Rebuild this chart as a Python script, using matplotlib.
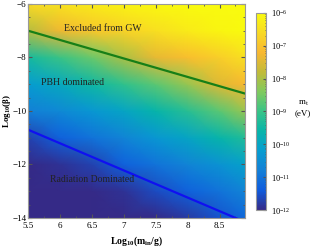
import numpy as np
import matplotlib
matplotlib.use("Agg")
import matplotlib.pyplot as plt
from matplotlib.colors import LinearSegmentedColormap, LogNorm
from matplotlib.ticker import MultipleLocator, FuncFormatter

plt.rcParams['font.family'] = ['Liberation Serif', 'DejaVu Serif']
plt.rcParams['mathtext.fontset'] = 'custom'
plt.rcParams['mathtext.rm'] = 'Liberation Serif'
plt.rcParams['mathtext.it'] = 'Liberation Serif:italic'
plt.rcParams['mathtext.bf'] = 'Liberation Serif:bold'

# grid nodes of the density map (log10 of mass in g, log10 beta)
log_m = [5.5, 6.0, 6.5, 7.0, 7.5, 8.0, 8.5, 8.9]
log_beta = [-14, -13, -12, -11, -10, -9, -8, -7, -6]
# log10(m_t / eV), one list per log_m column, bottom to top
log_mt = [
    [-12.0, -12.0, -12.0, -11.7, -10.8, -10.2, -9.4, -7.9, -6.6],
    [-12.0, -12.0, -11.9, -11.3, -10.6, -9.9, -9.0, -7.3, -6.45],
    [-12.0, -12.0, -11.7, -11.0, -10.3, -9.5, -8.6, -6.95, -6.3],
    [-12.0, -11.9, -11.3, -10.7, -10.0, -9.1, -8.0, -6.75, -6.15],
    [-12.0, -11.6, -11.0, -10.3, -9.6, -8.7, -7.4, -6.5, -6.05],
    [-11.8, -11.3, -10.7, -10.0, -9.2, -8.2, -7.1, -6.3, -6.0],
    [-11.5, -11.0, -10.4, -9.6, -8.7, -7.5, -6.8, -6.1, -6.0],
    [-11.2, -10.7, -10.1, -9.3, -8.2, -7.2, -6.5, -6.0, -6.0],
]

# boundary lines
gw_x = [5.5, 8.9]
gw_y = [-7.0, -9.35]
rad_x = [5.5, 8.9]
rad_y = [-10.7, -14.15]

parula = LinearSegmentedColormap.from_list("parula", [
    (0.2081, 0.1663, 0.5292), (0.0591, 0.3598, 0.8683),
    (0.0753, 0.5010, 0.8420), (0.0244, 0.6133, 0.8172),
    (0.0267, 0.7074, 0.6664), (0.2196, 0.7659, 0.5301),
    (0.5019, 0.7927, 0.3678), (0.7564, 0.7321, 0.2256),
    (0.9722, 0.7199, 0.1923), (0.9738, 0.8513, 0.1456),
    (0.9763, 0.9831, 0.0538)])

fig = plt.figure(figsize=(3.15, 2.48), dpi=100)
ax = fig.add_axes([0.089, 0.121, 0.689, 0.863])
cax = fig.add_axes([0.813, 0.153, 0.032, 0.795])

X, Y = np.meshgrid(log_m, log_beta)
Z = 10.0 ** np.array(log_mt).T
mesh = ax.pcolormesh(X, Y, Z, shading='gouraud', cmap=parula,
                     norm=LogNorm(vmin=1e-12, vmax=1e-6), rasterized=True)

ax.plot(gw_x, gw_y, color='#177f17', lw=1.6)
ax.plot(rad_x, rad_y, color='#1010f0', lw=1.6)

ax.text(6.67, -6.93, "Excluded from GW", fontsize=7, ha='center', va='center', color='#222222')
ax.text(6.19, -8.93, "PBH dominated", fontsize=7, ha='center', va='center', color='#222222')
ax.text(6.5, -12.56, "Radiation Dominated", fontsize=7, ha='center', va='center', color='#222222')

ax.set_xlim(5.5, 8.9)
ax.set_ylim(-14, -6)
ax.xaxis.set_major_locator(MultipleLocator(0.5))
ax.xaxis.set_minor_locator(MultipleLocator(0.25))
ax.yaxis.set_major_locator(MultipleLocator(2))
ax.yaxis.set_minor_locator(MultipleLocator(0.5))
ax.tick_params(which='both', direction='in', top=True, right=True, labelsize=6.5,
               color='#555555')
ax.tick_params(axis='x', pad=3)
ax.tick_params(axis='y', pad=1)
ax.tick_params(which='major', length=3)
ax.tick_params(which='minor', length=1.5)
ax.xaxis.set_major_formatter(FuncFormatter(lambda v, p: f"{v:g}"))
ax.yaxis.set_major_formatter(FuncFormatter(lambda v, p: f"\u2212{abs(v):g}" if v < 0 else f"{v:g}"))
for s in ax.spines.values():
    s.set_color('#999999')

ax.set_xlabel(r"Log$_{\mathbf{10}}$(m$_{\mathbf{in}}$/g)", fontsize=7, fontweight='bold', labelpad=3)
ax.set_ylabel(r"Log$_{\mathbf{10}}$($\mathbf{\beta}$)", fontsize=6.5, fontweight='bold')
ax.yaxis.set_label_coords(-0.071, 0.5)

cb = fig.colorbar(mesh, cax=cax)
cb.set_ticks([1e-12, 1e-11, 1e-10, 1e-9, 1e-8, 1e-7, 1e-6])
cb.ax.tick_params(which='both', direction='in', labelsize=6, length=2, color='#555555')
cb.ax.tick_params(which='minor', length=1)
cb.outline.set_edgecolor('#999999')
fig.text(0.962, 0.565, "m$_{\\mathrm{t}}$\n(eV)", fontsize=6.5, ha='center', va='center')

fig.savefig("out.png", dpi=100)
